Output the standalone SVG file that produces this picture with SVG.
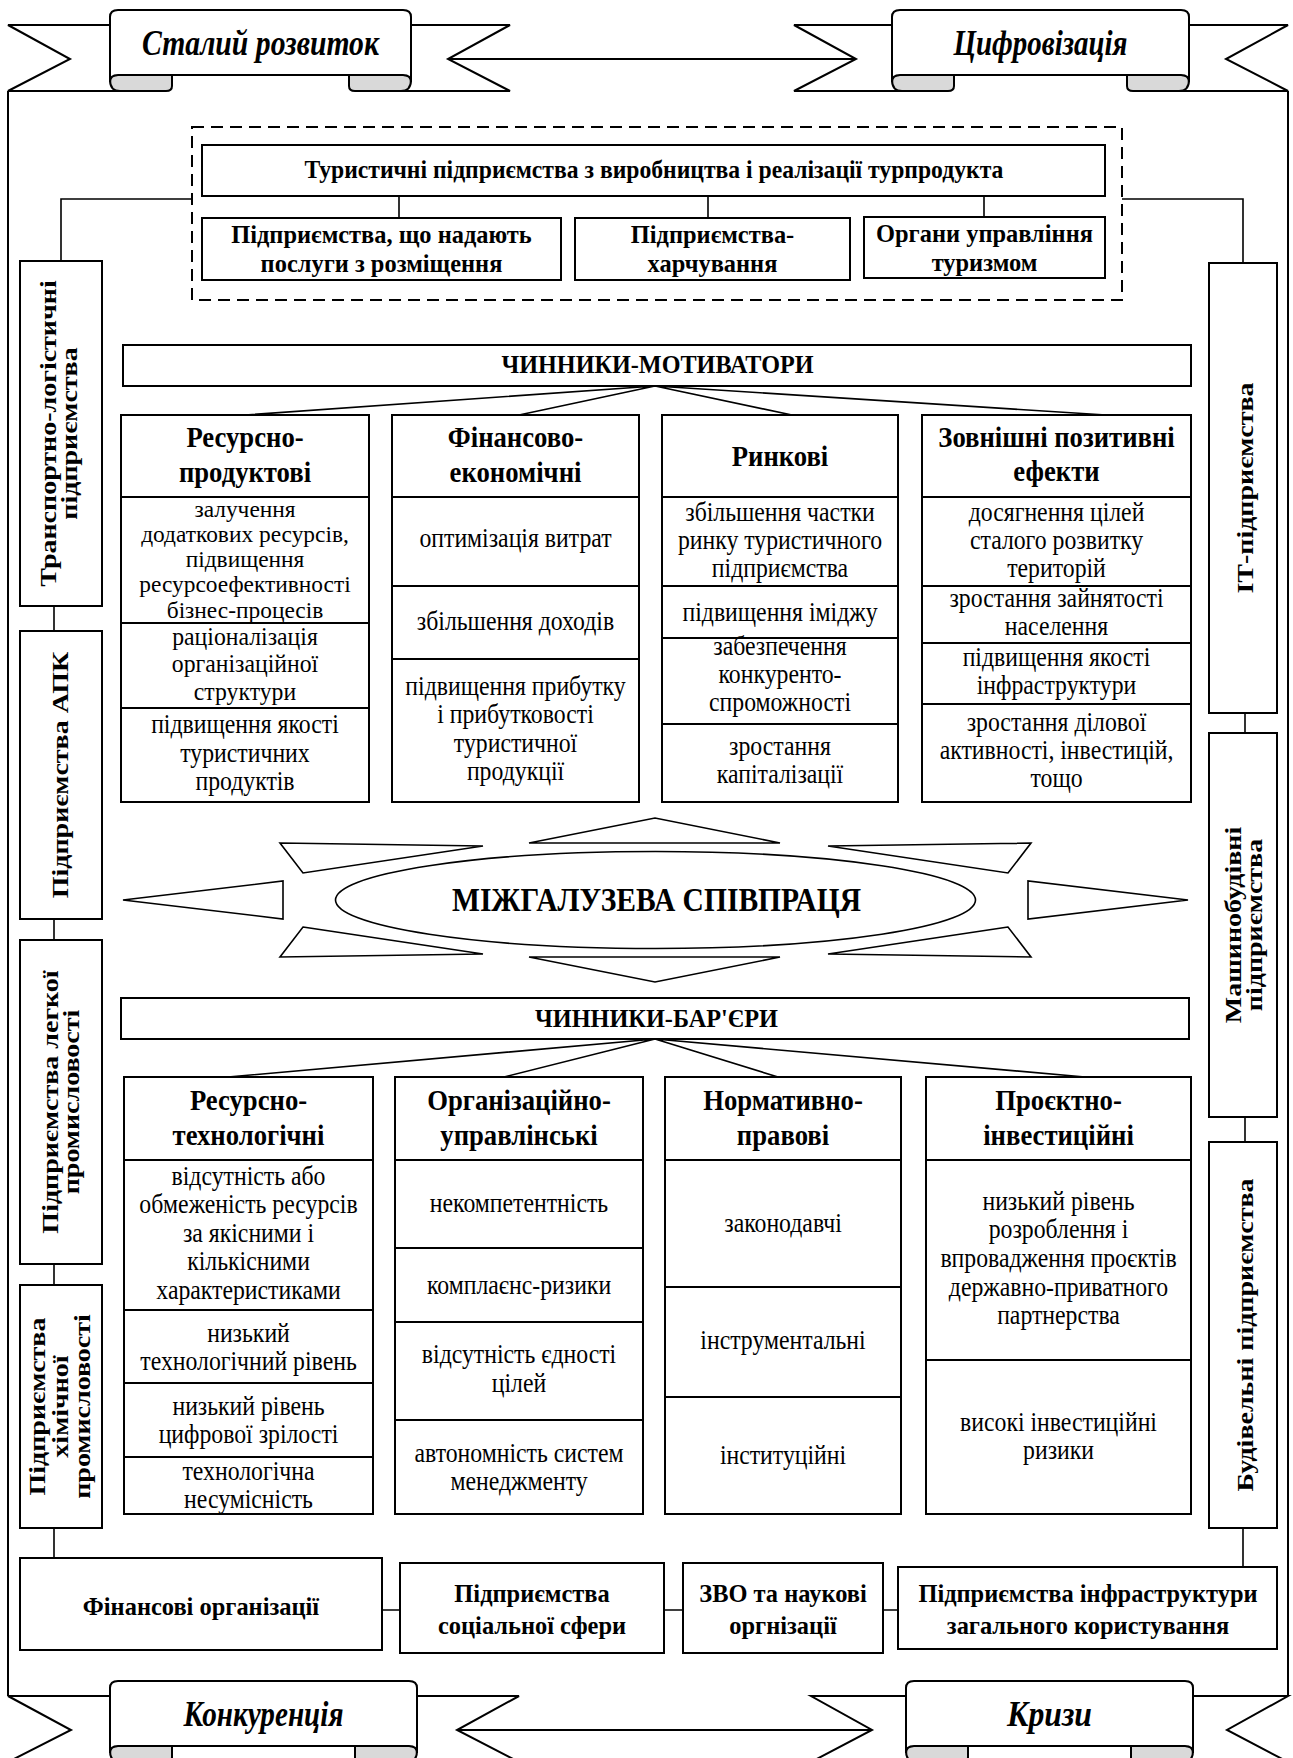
<svg xmlns="http://www.w3.org/2000/svg" width="1293" height="1758" viewBox="0 0 1293 1758">
<style>
.bx{fill:#fff;stroke:#000;stroke-width:2}
.ln{fill:none;stroke:#000;stroke-width:2}
.cn{fill:none;stroke:#000;stroke-width:1.6}
.tri{fill:#fff;stroke:#000;stroke-width:1.6}
.curl{fill:#d9d9d9;stroke:#000;stroke-width:2}
text{font-family:"Liberation Serif","Times New Roman",serif;fill:#000;text-anchor:middle}
.h{font-size:30px;font-weight:bold}
.r{font-size:27px}
.rs{font-size:22.5px}
.rm{font-size:25px}
.tb{font-size:26px;font-weight:bold}
.v{font-size:28px;font-weight:bold}
.rib{font-size:35px;font-weight:bold;font-style:italic}
.big{font-size:33px;font-weight:bold}
</style>
<rect width="1293" height="1758" fill="#fff"/>

<g id="frame" class="ln">
<path d="M8,91 L8,1696 M1288,91 L1288,1696 M449,59 L857,59 M457,1730 L872,1730"/>
</g>

<g id="ribbon-stalyi">
<polygon class="bx" points="120,25 8,25 70,59 8,91 160,91"/>
<polygon class="bx" points="401,25 510,25 448,59 510,91 361,91"/>
<path class="curl" d="M110,80 Q110,91 120,91 L166,91 Q172,91 172,86 L172,75 L118,75 Q110,75 110,80 Z"/>
<path class="curl" d="M411,80 Q411,91 401,91 L355,91 Q349,91 349,86 L349,75 L403,75 Q411,75 411,80 Z"/>
<path class="bx" d="M110,82 L110,17 Q110,10 118,10 L403,10 Q411,10 411,17 L411,82 Q411,75 403,75 L118,75 Q110,75 110,82 Z"/>
<text class="rib" x="260.5" y="55" textLength="237" lengthAdjust="spacingAndGlyphs">Сталий розвиток</text>
</g>

<g id="ribbon-tsyfro">
<polygon class="bx" points="902,25 794,25 856,59 794,91 942,91"/>
<polygon class="bx" points="1179,25 1288,25 1226,59 1288,91 1139,91"/>
<path class="curl" d="M892,80 Q892,91 902,91 L948,91 Q954,91 954,86 L954,75 L900,75 Q892,75 892,80 Z"/>
<path class="curl" d="M1189,80 Q1189,91 1179,91 L1133,91 Q1127,91 1127,86 L1127,75 L1181,75 Q1189,75 1189,80 Z"/>
<path class="bx" d="M892,82 L892,17 Q892,10 900,10 L1181,10 Q1189,10 1189,17 L1189,82 Q1189,75 1181,75 L900,75 Q892,75 892,82 Z"/>
<text class="rib" x="1040.5" y="55" textLength="174" lengthAdjust="spacingAndGlyphs">Цифровізація</text>
</g>

<g id="ribbon-konk">
<polygon class="bx" points="120,1696 8,1696 71,1730 8,1762 160,1762"/>
<polygon class="bx" points="407,1696 519,1696 457,1730 519,1762 367,1762"/>
<path class="curl" d="M110,1751 Q110,1762 120,1762 L166,1762 Q172,1762 172,1757 L172,1746 L118,1746 Q110,1746 110,1751 Z"/>
<path class="curl" d="M417,1751 Q417,1762 407,1762 L361,1762 Q355,1762 355,1757 L355,1746 L409,1746 Q417,1746 417,1751 Z"/>
<path class="bx" d="M110,1753 L110,1688 Q110,1681 118,1681 L409,1681 Q417,1681 417,1688 L417,1753 Q417,1746 409,1746 L118,1746 Q110,1746 110,1753 Z"/>
<text class="rib" x="263.5" y="1726" textLength="160" lengthAdjust="spacingAndGlyphs">Конкуренція</text>
</g>

<g id="ribbon-kryzy">
<polygon class="bx" points="916,1696 811,1696 872,1730 811,1762 956,1762"/>
<polygon class="bx" points="1183,1696 1288,1696 1227,1730 1288,1762 1143,1762"/>
<path class="curl" d="M906,1751 Q906,1762 916,1762 L962,1762 Q968,1762 968,1757 L968,1746 L914,1746 Q906,1746 906,1751 Z"/>
<path class="curl" d="M1193,1751 Q1193,1762 1183,1762 L1137,1762 Q1131,1762 1131,1757 L1131,1746 L1185,1746 Q1193,1746 1193,1751 Z"/>
<path class="bx" d="M906,1753 L906,1688 Q906,1681 914,1681 L1185,1681 Q1193,1681 1193,1688 L1193,1753 Q1193,1746 1185,1746 L914,1746 Q906,1746 906,1753 Z"/>
<text class="rib" x="1049.5" y="1726" textLength="85" lengthAdjust="spacingAndGlyphs">Кризи</text>
</g>

<g id="connectors" class="cn">
<path d="M399,196 V218 M708,196 V218 M984,196 V217"/>
<path d="M192,199 H61 V261 M1122,199 H1243 V263"/>
<path d="M54,606 V631 M54,919 V940 M54,1264 V1285 M54,1528 V1558"/>
<path d="M1245,713 V733 M1245,1117 V1142 M1243,1528 V1567"/>
<path d="M382,1610 H400 M664,1610 H683 M883,1610 H898"/>
<path d="M245,415 L655,386 L519,415 M792,415 L655,386 L1106,415"/>
<path d="M228,1077 L655,1039 L504,1077 M778,1077 L655,1039 L1085,1077"/>
</g>

<g id="tourism-group">
<rect x="192" y="127" width="930" height="173" fill="none" stroke="#000" stroke-width="2" stroke-dasharray="12 7"/>
</g>
<g id="tour-enterprises">
<rect class="bx" x="202" y="145" width="903" height="51"/>
<text class="tb" transform="translate(654,0) scale(0.91,1)"><tspan x="0" y="178">Туристичні підприємства з виробництва і реалізації турпродукта</tspan></text>
</g>
<g id="accommodation">
<rect class="bx" x="202" y="218" width="359" height="62"/>
<text class="tb" transform="translate(381.5,0) scale(0.94,1)"><tspan x="0" y="243">Підприємства, що надають</tspan><tspan x="0" y="272">послуги з розміщення</tspan></text>
</g>
<g id="catering">
<rect class="bx" x="575" y="218" width="275" height="62"/>
<text class="tb" transform="translate(712.5,0) scale(0.94,1)"><tspan x="0" y="243">Підприємства-</tspan><tspan x="0" y="272">харчування</tspan></text>
</g>
<g id="tourism-authorities">
<rect class="bx" x="864" y="217" width="241" height="61"/>
<text class="tb" transform="translate(984.5,0) scale(0.94,1)"><tspan x="0" y="242">Органи управління</tspan><tspan x="0" y="271">туризмом</tspan></text>
</g>

<g id="motivators">
<rect class="bx" x="123" y="345" width="1068" height="41"/>
<text class="tb" x="657.5" y="373" textLength="312" lengthAdjust="spacingAndGlyphs">ЧИННИКИ-МОТИВАТОРИ</text>
</g>

<g id="m-resource">
<rect class="bx" x="121" y="415" width="248" height="387"/>
<path class="ln" d="M121,497 H369 M121,623 H369 M121,708 H369"/>
<text class="h" transform="translate(245,0) scale(0.89,1)"><tspan x="0" y="447">Ресурсно-</tspan><tspan x="0" y="482">продуктові</tspan></text>
<text class="rs" transform="translate(245,0) scale(1.04,1)"><tspan x="0" y="517">залучення</tspan><tspan x="0" y="542">додаткових ресурсів,</tspan><tspan x="0" y="567">підвищення</tspan><tspan x="0" y="592.5">ресурсоефективності</tspan><tspan x="0" y="618">бізнес-процесів</tspan></text>
<text class="rm" transform="translate(245,0) scale(0.95,1)"><tspan x="0" y="645">раціоналізація</tspan><tspan x="0" y="672.5">організаційної</tspan><tspan x="0" y="700">структури</tspan></text>
<text class="r" transform="translate(245,0) scale(0.88,1)"><tspan x="0" y="733">підвищення якості</tspan><tspan x="0" y="762">туристичних</tspan><tspan x="0" y="790">продуктів</tspan></text>
</g>

<g id="m-finance">
<rect class="bx" x="392" y="415" width="247" height="387"/>
<path class="ln" d="M392,497 H639 M392,586 H639 M392,659 H639"/>
<text class="h" transform="translate(515.5,0) scale(0.89,1)"><tspan x="0" y="447">Фінансово-</tspan><tspan x="0" y="482">економічні</tspan></text>
<text class="r" transform="translate(515.5,0) scale(0.88,1)"><tspan x="0" y="547">оптимізація витрат</tspan><tspan x="0" y="630">збільшення доходів</tspan><tspan x="0" y="695">підвищення прибутку</tspan><tspan x="0" y="723">і прибутковості</tspan><tspan x="0" y="752">туристичної</tspan><tspan x="0" y="780">продукції</tspan></text>
</g>

<g id="m-market">
<rect class="bx" x="662" y="415" width="236" height="387"/>
<path class="ln" d="M662,497 H898 M662,586 H898 M662,638 H898 M662,724 H898"/>
<text class="h" transform="translate(780,0) scale(0.89,1)"><tspan x="0" y="466">Ринкові</tspan></text>
<text class="r" transform="translate(780,0) scale(0.88,1)"><tspan x="0" y="521">збільшення частки</tspan><tspan x="0" y="549">ринку туристичного</tspan><tspan x="0" y="577">підприємства</tspan><tspan x="0" y="621">підвищення іміджу</tspan><tspan x="0" y="655">забезпечення</tspan><tspan x="0" y="683">конкуренто-</tspan><tspan x="0" y="711">спроможності</tspan><tspan x="0" y="755">зростання</tspan><tspan x="0" y="783">капіталізації</tspan></text>
</g>

<g id="m-external">
<rect class="bx" x="922" y="415" width="269" height="387"/>
<path class="ln" d="M922,497 H1191 M922,586 H1191 M922,643 H1191 M922,704 H1191"/>
<text class="h" transform="translate(1056.5,0) scale(0.89,1)"><tspan x="0" y="447">Зовнішні позитивні</tspan><tspan x="0" y="481">ефекти</tspan></text>
<text class="r" transform="translate(1056.5,0) scale(0.88,1)"><tspan x="0" y="521">досягнення цілей</tspan><tspan x="0" y="549">сталого розвитку</tspan><tspan x="0" y="577">територій</tspan><tspan x="0" y="607">зростання зайнятості</tspan><tspan x="0" y="635">населення</tspan><tspan x="0" y="666">підвищення якості</tspan><tspan x="0" y="694">інфраструктури</tspan><tspan x="0" y="731">зростання ділової</tspan><tspan x="0" y="759">активності, інвестицій,</tspan><tspan x="0" y="787">тощо</tspan></text>
</g>

<g id="cooperation">
<polygon class="tri" points="529,843 780,843 655,818"/>
<polygon class="tri" points="529,957 780,957 655,982"/>
<polygon class="tri" points="280,843 483,846 303,873"/>
<polygon class="tri" points="123,900 283,881 283,919"/>
<polygon class="tri" points="303,927 483,954 280,957"/>
<polygon class="tri" points="1031,843 828,846 1008,873"/>
<polygon class="tri" points="1188,900 1028,881 1028,919"/>
<polygon class="tri" points="1008,927 828,954 1031,957"/>
<ellipse class="tri" cx="655.5" cy="900" rx="320" ry="48.5"/>
<text class="big" x="656.5" y="911" textLength="409" lengthAdjust="spacingAndGlyphs">МІЖГАЛУЗЕВА СПІВПРАЦЯ</text>
</g>

<g id="barriers">
<rect class="bx" x="121" y="998" width="1068" height="41"/>
<text class="tb" x="656.5" y="1027" textLength="243" lengthAdjust="spacingAndGlyphs">ЧИННИКИ-БАР'ЄРИ</text>
</g>

<g id="b-resource">
<rect class="bx" x="124" y="1077" width="249" height="437"/>
<path class="ln" d="M124,1160 H373 M124,1310 H373 M124,1383 H373 M124,1457 H373"/>
<text class="h" transform="translate(248.5,0) scale(0.89,1)"><tspan x="0" y="1110">Ресурсно-</tspan><tspan x="0" y="1145">технологічні</tspan></text>
<text class="r" transform="translate(248.5,0) scale(0.88,1)"><tspan x="0" y="1185">відсутність або</tspan><tspan x="0" y="1213">обмеженість ресурсів</tspan><tspan x="0" y="1242">за якісними і</tspan><tspan x="0" y="1270">кількісними</tspan><tspan x="0" y="1299">характеристиками</tspan><tspan x="0" y="1342">низький</tspan><tspan x="0" y="1370">технологічний рівень</tspan><tspan x="0" y="1415">низький рівень</tspan><tspan x="0" y="1443">цифрової зрілості</tspan><tspan x="0" y="1480">технологічна</tspan><tspan x="0" y="1508">несумісність</tspan></text>
</g>

<g id="b-organization">
<rect class="bx" x="395" y="1077" width="248" height="437"/>
<path class="ln" d="M395,1160 H643 M395,1248 H643 M395,1322 H643 M395,1420 H643"/>
<text class="h" transform="translate(519,0) scale(0.89,1)"><tspan x="0" y="1110">Організаційно-</tspan><tspan x="0" y="1145">управлінські</tspan></text>
<text class="r" transform="translate(519,0) scale(0.88,1)"><tspan x="0" y="1212">некомпетентність</tspan><tspan x="0" y="1294">комплаєнс-ризики</tspan><tspan x="0" y="1363">відсутність єдності</tspan><tspan x="0" y="1392">цілей</tspan><tspan x="0" y="1462">автономність систем</tspan><tspan x="0" y="1490">менеджменту</tspan></text>
</g>

<g id="b-legal">
<rect class="bx" x="665" y="1077" width="236" height="437"/>
<path class="ln" d="M665,1160 H901 M665,1287 H901 M665,1397 H901"/>
<text class="h" transform="translate(783,0) scale(0.89,1)"><tspan x="0" y="1110">Нормативно-</tspan><tspan x="0" y="1145">правові</tspan></text>
<text class="r" transform="translate(783,0) scale(0.88,1)"><tspan x="0" y="1232">законодавчі</tspan><tspan x="0" y="1349">інструментальні</tspan><tspan x="0" y="1464">інституційні</tspan></text>
</g>

<g id="b-project">
<rect class="bx" x="926" y="1077" width="265" height="437"/>
<path class="ln" d="M926,1160 H1191 M926,1360 H1191"/>
<text class="h" transform="translate(1058.5,0) scale(0.89,1)"><tspan x="0" y="1110">Проєктно-</tspan><tspan x="0" y="1145">інвестиційні</tspan></text>
<text class="r" transform="translate(1058.5,0) scale(0.88,1)"><tspan x="0" y="1210">низький рівень</tspan><tspan x="0" y="1238">розроблення і</tspan><tspan x="0" y="1267">впровадження проєктів</tspan><tspan x="0" y="1296">державно-приватного</tspan><tspan x="0" y="1324">партнерства</tspan><tspan x="0" y="1431">високі інвестиційні</tspan><tspan x="0" y="1459">ризики</tspan></text>
</g>

<g id="transport">
<rect class="bx" x="20" y="261" width="82" height="345"/>
<text class="v" transform="translate(56,433.5) rotate(-90) scale(1,0.85)"><tspan x="0" y="0">Транспортно-логістичні</tspan><tspan x="0" y="25">підприємства</tspan></text>
</g>
<g id="agro">
<rect class="bx" x="20" y="631" width="82" height="288"/>
<text class="v" transform="translate(68,775) rotate(-90) scale(1,0.85)"><tspan x="0" y="0">Підприємства АПК</tspan></text>
</g>
<g id="light-industry">
<rect class="bx" x="20" y="940" width="82" height="324"/>
<text class="v" transform="translate(58,1102) rotate(-90) scale(1,0.85)"><tspan x="0" y="0">Підприємства легкої</tspan><tspan x="0" y="25">промисловості</tspan></text>
</g>
<g id="chemical">
<rect class="bx" x="20" y="1285" width="82" height="243"/>
<text class="v" transform="translate(45,1406.5) rotate(-90) scale(1,0.85)"><tspan x="0" y="0">Підприємства</tspan><tspan x="0" y="26.5">хімічної</tspan><tspan x="0" y="53">промисловості</tspan></text>
</g>

<g id="it">
<rect class="bx" x="1209" y="263" width="68" height="450"/>
<text class="v" transform="translate(1253,488) rotate(-90) scale(1,0.85)"><tspan x="0" y="0">ІТ-підприємства</tspan></text>
</g>
<g id="machinery">
<rect class="bx" x="1209" y="733" width="68" height="384"/>
<text class="v" transform="translate(1241,925) rotate(-90) scale(1,0.85)"><tspan x="0" y="0">Машинобудівні</tspan><tspan x="0" y="25">підприємства</tspan></text>
</g>
<g id="construction">
<rect class="bx" x="1209" y="1142" width="68" height="386"/>
<text class="v" transform="translate(1253,1335) rotate(-90) scale(1,0.85)"><tspan x="0" y="0">Будівельні підприємства</tspan></text>
</g>

<g id="financial">
<rect class="bx" x="20" y="1558" width="362" height="92"/>
<text class="tb" transform="translate(201,0) scale(0.94,1)"><tspan x="0" y="1615">Фінансові організації</tspan></text>
</g>
<g id="social">
<rect class="bx" x="400" y="1563" width="264" height="90"/>
<text class="tb" transform="translate(532,0) scale(0.94,1)"><tspan x="0" y="1602">Підприємства</tspan><tspan x="0" y="1634">соціальної сфери</tspan></text>
</g>
<g id="universities">
<rect class="bx" x="683" y="1563" width="200" height="90"/>
<text class="tb" transform="translate(783,0) scale(0.94,1)"><tspan x="0" y="1602">ЗВО та наукові</tspan><tspan x="0" y="1634">оргнізації</tspan></text>
</g>
<g id="infrastructure">
<rect class="bx" x="898" y="1567" width="379" height="82"/>
<text class="tb" transform="translate(1088,0) scale(0.94,1)"><tspan x="0" y="1602">Підприємства інфраструктури</tspan><tspan x="0" y="1634">загального користування</tspan></text>
</g>
</svg>
